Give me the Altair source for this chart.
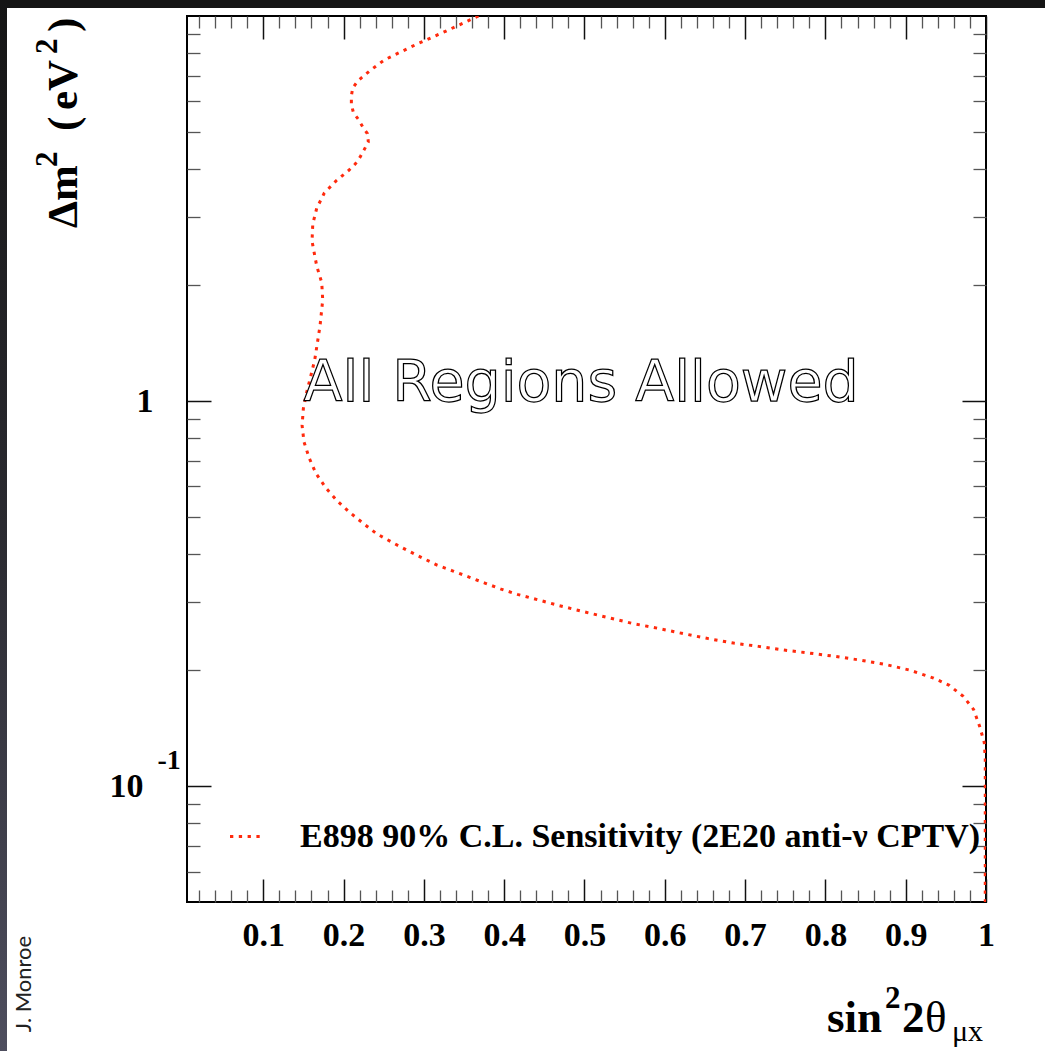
import altair as alt
import pandas as pd

# ---------------- data ----------------
sin2_theta = [0.368, 0.3276, 0.2890, 0.2508, 0.2338, 0.2176, 0.2114, 0.2097, 0.2097, 0.2122,
              0.2184, 0.2239, 0.2296, 0.2308, 0.2255, 0.2205, 0.2147, 0.2068, 0.1906, 0.1760,
              0.1666, 0.1616, 0.1607, 0.1666, 0.1728, 0.1740, 0.1707, 0.1641, 0.1591, 0.1541,
              0.1499, 0.1483, 0.1507, 0.1573, 0.1657, 0.1781, 0.1922, 0.2080, 0.2246, 0.2413,
              0.2600, 0.2787, 0.2974, 0.3164, 0.3364, 0.3563, 0.3759, 0.3962, 0.4165, 0.4369,
              0.4676, 0.4987, 0.5298, 0.5610, 0.5921, 0.6233, 0.6544, 0.6856, 0.7167, 0.7487,
              0.7803, 0.8123, 0.8434, 0.8746, 0.9049, 0.9347, 0.9543, 0.9713, 0.9845, 0.9920,
              0.9979, 0.9991, 0.9991]
delta_m2 = [10.0, 9.14, 8.41, 7.69, 7.24, 6.78, 6.50, 6.20, 5.90, 5.61,
            5.39, 5.15, 4.95, 4.71, 4.49, 4.30, 4.13, 3.98, 3.73, 3.47,
            3.17, 2.88, 2.60, 2.24, 2.03, 1.83, 1.57, 1.28, 1.16, 1.055,
            0.956, 0.865, 0.783, 0.710, 0.648, 0.594, 0.550, 0.513, 0.481, 0.452,
            0.430, 0.410, 0.392, 0.375, 0.3618, 0.349, 0.3367, 0.3248, 0.3147, 0.3067,
            0.2946, 0.2838, 0.2738, 0.2641, 0.2568, 0.2488, 0.2415, 0.2352, 0.2306, 0.2255,
            0.2215, 0.2172, 0.2124, 0.2070, 0.2001, 0.1908, 0.1826, 0.1713, 0.1582, 0.1431,
            0.1296, 0.1173, 0.05]
series_name = "E898 90% C.L. Sensitivity (2E20 anti-ν CPTV)"
annotation = ["All Regions Allowed"]
annotation_x = [0.4958]
annotation_y = [1.0]

x_major = [0.1, 0.2, 0.3, 0.4, 0.5, 0.6, 0.7, 0.8, 0.9, 1.0]
x_minor = [round(0.02 * i, 2) for i in range(1, 50) if i % 5 != 0]
y_major = [0.1, 1.0]
y_minor = [0.06, 0.07, 0.08, 0.09, 0.2, 0.3, 0.4, 0.5, 0.6, 0.7, 0.8, 0.9,
           2, 3, 4, 5, 6, 7, 8, 9]

# ---------------- layout ----------------
W, H = 799, 886
PL, PT = 187, 16
PR, PB = 1045 - PL - W, 1051 - PT - H
SERIF = "Liberation Serif"
RED = "#ff2a0d"

curve = pd.DataFrame({"sin2": sin2_theta, "dm2": delta_m2,
                      "idx": list(range(len(sin2_theta))),
                      "series": [series_name] * len(sin2_theta)})

xs = alt.Scale(domain=[0.005, 1.0], nice=False, zero=False)
ys = alt.Scale(type="log", domain=[0.05, 10], nice=False)


def tick_axis(orient, values, size, color, width):
    return alt.Axis(orient=orient, values=values, offset=-size, tickSize=size,
                    labels=False, domain=False, grid=False, title=None,
                    ticks=True, tickColor=color, tickWidth=width)


def label_axis(orient, values, expr, size, padding, **kw):
    return alt.Axis(orient=orient, values=values, labelExpr=expr, ticks=False,
                    tickSize=0, domain=False, grid=False, title=None,
                    labelFont=SERIF, labelFontWeight="bold", labelFontSize=size,
                    labelColor="black", labelPadding=padding, labelFlush=False,
                    labelOverlap=False, labelBound=False, **kw)


def ghost(xaxis, yaxis):
    return alt.Chart(curve).mark_point(opacity=0).encode(
        x=alt.X("sin2:Q", scale=xs, axis=xaxis),
        y=alt.Y("dm2:Q", scale=ys, axis=yaxis))


MAJ_C, MIN_C = "#111111", "#555555"
layers = []
layers.append(ghost(tick_axis("bottom", x_major, 23, MAJ_C, 1.5),
                    tick_axis("left", y_major, 24, MAJ_C, 1.5)))
layers.append(ghost(tick_axis("bottom", x_minor, 12, MIN_C, 1.3),
                    tick_axis("left", y_minor, 13, MIN_C, 1.3)))
layers.append(ghost(tick_axis("top", x_major, 23, MAJ_C, 1.5),
                    tick_axis("right", y_major, 24, MAJ_C, 1.5)))
layers.append(ghost(tick_axis("top", x_minor, 12, MIN_C, 1.3),
                    tick_axis("right", y_minor, 13, MIN_C, 1.3)))
layers.append(ghost(label_axis("bottom", x_major, "format(datum.value, '~g')", 34, 16),
                    label_axis("left", [1.0], "'1'", 34, 34)))
layers.append(ghost(None, label_axis("left", [0.1], "'10'", 34, 44)))
layers.append(ghost(None, label_axis("left", [0.1], "'-1'", 28, 30,
                                     labelAlign="left", labelBaseline="alphabetic",
                                     labelOffset=-17.7)))

line = alt.Chart(curve).mark_line(strokeDash=[3.3, 5.5], strokeWidth=3, clip=True).encode(
    x=alt.X("sin2:Q", scale=xs, axis=None),
    y=alt.Y("dm2:Q", scale=ys, axis=None),
    order="idx:Q",
    color=alt.Color("series:N", scale=alt.Scale(domain=[series_name], range=[RED]),
                    legend=alt.Legend(orient="none", legendX=41, legendY=803.5, title=None,
                                      symbolType="stroke", symbolSize=900,
                                      symbolStrokeWidth=3, symbolDash=[3.3, 5.5],
                                      labelFont=SERIF, labelFontWeight="bold",
                                      labelFontSize=34, labelColor="black",
                                      labelLimit=1000, labelOffset=38,
                                      padding=0, rowPadding=0)))
layers.append(line)

ann_df = pd.DataFrame({"t": annotation, "x": annotation_x, "y": annotation_y})
layers.append(alt.Chart(ann_df).mark_text(
    font="DejaVu Sans", fontSize=57, fill="white", stroke="#000000", strokeWidth=1.25,
    align="center", baseline="alphabetic").encode(
    x=alt.X("x:Q", scale=xs, axis=None), y=alt.Y("y:Q", scale=ys, axis=None), text="t:N"))


def txt(s, px, py, size, weight="bold", angle=0, font=SERIF, color="black",
        align="left", baseline="alphabetic"):
    kw = dict(font=font, fontSize=size, fontWeight=weight, color=color,
              align=align, baseline=baseline)
    if angle:
        kw["angle"] = angle
    return alt.Chart(pd.DataFrame({"t": [s]})).mark_text(**kw).encode(
        text="t:N", x=alt.value(px - PL), y=alt.value(py - PT))


# x title: sin^2 2theta_{mu x}
layers += [txt("sin", 827, 1032, 45),
           txt("2", 885, 1008, 31),
           txt("2", 902, 1032, 45),
           txt("θ", 925, 1032, 45, weight="normal"),
           txt("μx", 952, 1041, 30, weight="normal")]
# y title: Delta m^2 (eV^2), rotated
layers += [txt("Δm", 77, 228, 43, angle=270),
           txt("2", 57, 167, 31, angle=270),
           txt("(", 77, 131, 43, angle=270),
           txt("eV", 77, 110, 43, angle=270),
           txt("2", 57, 54, 31, angle=270),
           txt(")", 77, 32, 43, angle=270)]
# signature
layers.append(txt("J. Monroe", 24, 984, 22, weight="normal", angle=270, font="Lato",
                  color="#222222", align="center", baseline="middle"))

# slide frame bands
one = pd.DataFrame({"a": [0]})
top_band = alt.Chart(one).mark_rect(color="#151515").encode(
    x=alt.value(-PL), x2=alt.value(W + PR), y=alt.value(-PT), y2=alt.value(8 - PT))
left_band = alt.Chart(one).mark_rect(
    color=alt.Gradient(gradient="linear",
                       stops=[alt.GradientStop(color="#151515", offset=0),
                              alt.GradientStop(color="#2a2a30", offset=0.5),
                              alt.GradientStop(color="#4e4e5e", offset=1)],
                       x1=0, x2=0, y1=0, y2=1)).encode(
    x=alt.value(-PL), x2=alt.value(7 - PL), y=alt.value(-PT), y2=alt.value(H + PB))

chart = alt.layer(top_band, left_band, *layers).resolve_axis(
    x="independent", y="independent").properties(
    width=W, height=H,
    padding={"left": PL, "top": PT, "right": PR, "bottom": PB},
    autosize=alt.AutoSizeParams(type="none"),
    background="white",
).configure_view(stroke="black", strokeWidth=2)

chart.save("out.html", embed_options={"renderer": "svg", "actions": False})
